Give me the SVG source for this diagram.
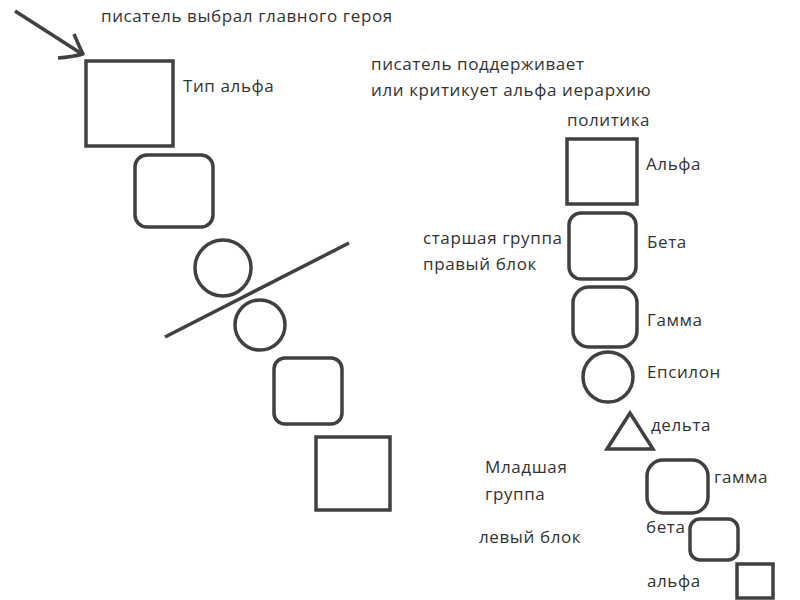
<svg xmlns="http://www.w3.org/2000/svg" width="800" height="600" viewBox="0 0 800 600">
<style>
.s{fill:none;stroke:#404040;stroke-width:3.5}
text{font-family:"Open Sans","Noto Sans","DejaVu Sans",sans-serif;font-size:17px;letter-spacing:0.6px;fill:#333}
</style>
<rect width="800" height="600" fill="#fff"/>
<g id="connectors">
<path class="s" d="M15,11 L82,54" stroke-width="4"/>
<path class="s" d="M58,58 Q72,57 83,54 Q79,46 74,34" stroke-width="4" stroke-linejoin="round"/>
<path class="s" d="M165,337 L349,243"/>
</g>
<g id="title"><text x="101" y="22">писатель выбрал главного героя</text></g>
<g id="left-alpha"><rect class="s" x="86" y="61" width="87" height="85"/><text x="183" y="92">Тип альфа</text></g>
<g id="left-r1"><rect class="s" x="135" y="155" width="78" height="72" rx="12"/></g>
<g id="left-c1"><circle class="s" cx="223" cy="268" r="28"/></g>
<g id="left-c2"><circle class="s" cx="260" cy="325" r="25"/></g>
<g id="left-r2"><rect class="s" x="274" y="358" width="68" height="66" rx="11"/></g>
<g id="left-sq"><rect class="s" x="316" y="437" width="74" height="73"/></g>
<g id="right-title"><text x="371" y="70">писатель поддерживает</text><text x="371" y="96">или критикует альфа иерархию</text></g>
<g id="politika"><text x="567" y="126">политика</text></g>
<g id="r-alfa"><rect class="s" x="567" y="139" width="70" height="65"/><text x="646" y="170">Альфа</text></g>
<g id="r-beta"><rect class="s" x="569" y="213" width="67" height="66" rx="12"/><text x="647" y="248">Бета</text></g>
<g id="senior"><text x="423" y="244">старшая группа</text><text x="423" y="270">правый блок</text></g>
<g id="r-gamma"><rect class="s" x="573" y="287" width="64" height="60" rx="16"/><text x="647" y="326">Гамма</text></g>
<g id="r-eps"><circle class="s" cx="608" cy="377" r="25"/><text x="647" y="378">Епсилон</text></g>
<g id="r-delta"><polygon class="s" points="607,449 630,413 653,449"/><text x="651" y="431">дельта</text></g>
<g id="junior"><text x="485" y="473">Младшая</text><text x="485" y="500">группа</text><text x="479" y="543">левый блок</text></g>
<g id="r-gamma2"><rect class="s" x="647" y="460" width="61" height="53" rx="16"/><text x="714" y="483">гамма</text></g>
<g id="r-beta2"><rect class="s" x="690" y="519" width="48" height="41" rx="10"/><text x="646" y="533">бета</text></g>
<g id="r-alfa2"><rect class="s" x="737" y="564" width="36" height="34"/><text x="647" y="587">альфа</text></g>
</svg>
